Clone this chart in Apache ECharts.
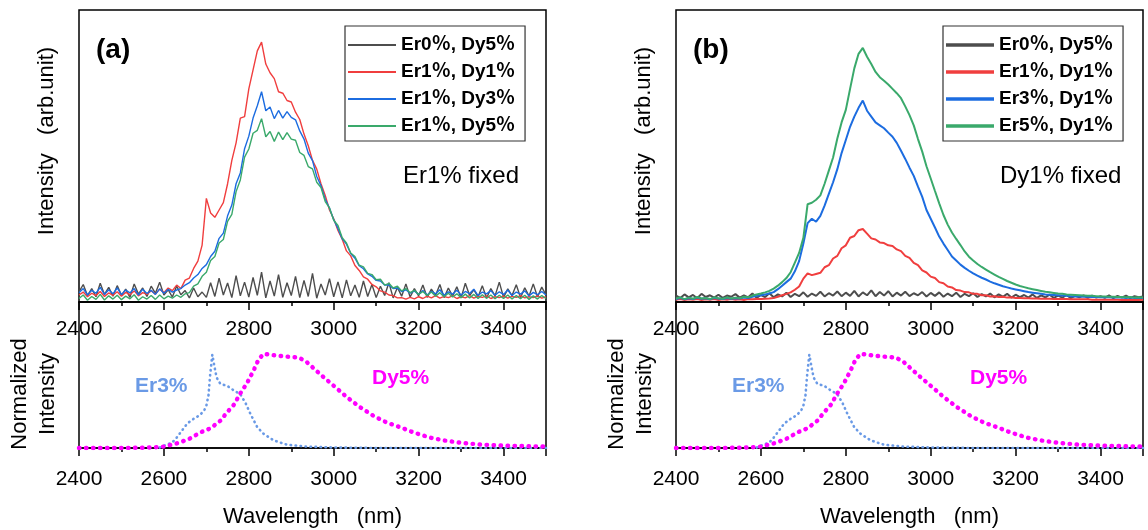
<!DOCTYPE html>
<html>
<head>
<meta charset="utf-8">
<title>Er/Dy emission spectra</title>
<script src="https://cdn.jsdelivr.net/npm/echarts@6/dist/echarts.min.js"></script>
<style>
    html, body { margin: 0; padding: 0; background: #fff; }
    #main { width: 1148px; height: 530px; }
</style>
</head>
<body>
<div id="main"></div>
<script>
// sampling grid of the spectra (nm), 10 nm step from 2400 to 3500
var wlStart = 2400, wlStep = 10, wlCount = 111;
var wavelength = [];
for (var i = 0; i < wlCount; i++) wavelength.push(wlStart + i * wlStep);

var xMin = 2400, xMax = 3500, xInterval = 200;

// panel (a): Er1% fixed, intensity in arb. units (0..100 = full frame)
var aNames = ['Er0％, Dy5％', 'Er1％, Dy1％', 'Er1％, Dy3％', 'Er1％, Dy5％'];
var aEr0Dy5 = [
    3.5, 6.0, 2.2, 4.6, 1.8, 6.4, 2.6, 5.0, 2.0, 5.6,
    2.3, 4.4, 1.6, 6.2, 2.7, 4.8, 1.9, 5.4, 3.0, 6.8,
    2.4, 4.2, 1.7, 5.5, 2.5, 3.9, 1.4, 4.8, 1.8, 3.4,
    1.6, 6.6, 1.9, 8.2, 2.4, 6.5, 1.5, 9.0, 2.1, 6.8,
    1.7, 8.4, 2.3, 10.2, 1.4, 7.2, 2.0, 9.4, 1.6, 6.6,
    2.2, 8.8, 1.5, 7.4, 1.9, 9.8, 1.3, 6.2, 2.4, 8.0,
    1.8, 6.9, 1.4, 7.6, 2.1, 5.8, 1.6, 7.2, 1.9, 6.0,
    1.5, 5.4, 2.2, 6.6, 1.4, 5.0, 2.0, 6.2, 1.7, 4.6,
    2.1, 5.8, 1.6, 4.4, 2.3, 6.0, 1.5, 4.8, 2.0, 5.2,
    1.4, 6.4, 2.2, 4.2, 1.7, 5.6, 1.3, 4.6, 2.1, 6.8,
    1.6, 4.5, 2.2, 5.9, 1.5, 4.9, 2.0, 6.2, 1.7, 5.1,
    2.4
];
var aEr1Dy1 = [
    2.4, 3.4, 1.8, 3.0, 2.2, 3.6, 1.9, 3.1, 2.3, 3.5,
    2.0, 3.3, 2.5, 3.8, 2.1, 3.2, 2.6, 3.9, 2.7, 4.4,
    3.2, 4.8, 3.9, 5.8, 4.6, 7.5, 8.2, 11.5, 14.0, 19.5,
    35.5, 30.5, 29.0, 31.5, 34.0, 40.5, 48.5, 54.5, 63.0, 63.5,
    73.0, 79.5, 86.0, 89.0, 81.5, 78.5, 76.5, 72.0, 71.5, 69.0,
    68.5, 65.0, 62.5, 57.5, 53.5, 48.5, 45.5, 40.5, 36.5, 31.5,
    28.5, 24.5, 21.5, 17.5, 15.8, 12.5, 10.8, 8.6, 7.8, 6.0,
    5.2, 3.8, 3.4, 2.4, 2.2, 1.4, 1.5, 1.0, 1.6, 1.1,
    1.8, 1.2, 2.0, 1.4, 2.2, 1.3, 1.9, 1.5, 2.1, 1.2,
    1.8, 1.4, 2.2, 1.3, 1.9, 1.6, 2.1, 1.2, 1.8, 1.5,
    2.0, 1.3, 1.9, 1.6, 2.2, 1.4, 1.8, 1.5, 2.1, 1.3,
    1.8
];
var aEr1Dy3 = [
    3.2, 4.6, 2.4, 4.0, 3.0, 5.0, 2.6, 4.2, 2.8, 4.8,
    2.5, 4.1, 3.1, 4.6, 2.4, 4.4, 2.9, 4.0, 2.6, 4.5,
    3.0, 4.3, 3.4, 4.1, 4.6, 5.8, 6.6, 8.2, 9.4, 11.5,
    12.8, 15.6, 17.4, 21.8, 23.6, 29.5, 33.2, 40.5, 44.2, 52.5,
    56.8, 63.0, 67.2, 72.0, 65.5, 66.8, 62.8, 65.6, 63.0, 65.2,
    63.2, 62.4, 58.6, 55.8, 51.0, 48.4, 43.0, 39.8, 35.2, 32.2,
    28.2, 25.2, 21.6, 19.8, 16.6, 15.0, 12.4, 11.4, 9.6, 8.8,
    7.4, 7.2, 5.8, 5.8, 4.6, 4.8, 3.6, 4.2, 3.0, 3.8,
    2.6, 3.9, 2.4, 3.6, 2.8, 4.2, 2.3, 3.5, 2.7, 4.0,
    2.4, 3.6, 2.9, 4.4, 2.2, 3.4, 2.8, 3.9, 2.3, 3.5,
    2.6, 4.1, 2.2, 3.4, 2.7, 3.8, 2.1, 3.3, 2.5, 3.6,
    2.4
];
var aEr1Dy5 = [
    1.2, 2.4, 0.6, 1.9, 0.9, 2.6, 0.7, 2.1, 1.0, 2.3,
    0.8, 2.0, 1.1, 2.5, 0.6, 1.8, 1.0, 2.2, 0.9, 2.4,
    1.1, 2.0, 1.3, 2.4, 1.6, 2.8, 3.2, 5.4, 6.2, 8.8,
    10.2, 14.2, 15.6, 20.2, 21.4, 27.6, 30.0, 37.8, 41.8, 49.6,
    52.4, 57.8, 58.8, 62.8, 56.6, 58.4, 55.0, 58.2, 55.6, 58.0,
    55.8, 55.4, 51.2, 50.2, 46.4, 45.6, 41.0, 39.2, 34.4, 32.2,
    28.0, 26.2, 22.0, 20.2, 16.8, 15.6, 12.6, 12.0, 9.8, 9.4,
    7.6, 7.8, 5.8, 6.4, 4.8, 5.4, 3.8, 4.6, 3.2, 4.0,
    2.6, 3.6, 2.2, 3.4, 2.0, 3.2, 1.8, 3.0, 1.7, 2.8,
    1.5, 2.7, 1.4, 2.6, 1.2, 2.5, 1.3, 2.4, 1.1, 2.3,
    1.2, 2.4, 1.0, 2.2, 1.1, 2.3, 0.9, 2.1, 1.0, 2.2,
    1.2
];

// panel (b): Dy1% fixed
var bNames = ['Er0％, Dy5％', 'Er1％, Dy1％', 'Er3％, Dy1％', 'Er5％, Dy1％'];
var bEr0Dy5 = [
    2.2, 1.4, 2.6, 1.6, 2.4, 1.3, 2.8, 1.7, 2.3, 1.5,
    2.5, 1.4, 2.2, 1.8, 2.7, 1.5, 2.3, 1.6, 2.9, 1.4,
    2.4, 1.7, 3.0, 1.6, 2.6, 1.9, 3.2, 1.7, 2.8, 2.0,
    3.3, 1.8, 2.9, 2.1, 3.5, 1.9, 3.0, 2.2, 3.6, 2.0,
    3.2, 2.1, 3.8, 1.9, 3.3, 2.3, 4.0, 2.0, 3.4, 2.2,
    3.7, 1.9, 3.2, 2.2, 3.5, 2.0, 3.0, 2.3, 3.4, 1.9,
    3.1, 2.1, 3.3, 1.8, 2.9, 2.0, 3.2, 1.7, 2.8, 2.0,
    3.0, 1.7, 2.7, 1.9, 2.9, 1.6, 2.6, 1.8, 2.8, 1.5,
    2.5, 1.7, 2.4, 1.5, 2.6, 1.4, 2.3, 1.6, 2.5, 1.4,
    2.2, 1.5, 2.4, 1.3, 2.1, 1.6, 2.3, 1.4, 2.2, 1.5,
    2.0, 1.4, 2.3, 1.3, 2.1, 1.5, 2.2, 1.3, 2.0, 1.6,
    1.9
];
var bEr1Dy1 = [
    0.8, 1.0, 0.7, 0.9, 0.8, 1.0, 0.7, 0.9, 0.8, 1.0,
    0.7, 0.9, 0.8, 1.0, 0.8, 0.9, 0.7, 1.0, 0.9, 1.0,
    1.0, 1.1, 1.2, 1.4, 1.8, 2.3, 2.8, 3.3, 4.2, 5.3,
    8.0, 9.8, 9.2, 9.6, 10.0, 11.9, 12.6, 14.9, 15.8, 18.4,
    19.4, 22.0, 22.6, 24.6, 25.0, 23.4, 21.8, 21.4, 20.4, 20.2,
    19.4, 19.2, 18.0, 17.4, 15.8, 15.1, 13.4, 12.6, 10.8, 10.1,
    8.7, 8.2, 6.8, 6.4, 5.3, 5.0, 4.1, 3.9, 3.4, 3.3,
    2.8, 2.8, 2.3, 2.3, 1.9, 2.0, 1.7, 1.8, 1.5, 1.6,
    1.4, 1.4, 1.3, 1.3, 1.2, 1.2, 1.1, 1.1, 1.1, 1.0,
    1.0, 1.0, 1.0, 0.9, 0.9, 0.9, 0.9, 0.9, 0.8, 0.8,
    0.8, 0.8, 0.8, 0.8, 0.8, 0.7, 0.8, 0.7, 0.8, 0.7,
    0.8
];
var bEr3Dy1 = [
    1.0, 1.4, 0.9, 1.3, 1.0, 1.5, 1.1, 1.3, 0.9, 1.4,
    1.2, 1.0, 1.4, 1.1, 1.3, 1.2, 1.5, 1.4, 1.8, 2.1,
    2.3, 2.6, 2.9, 3.4, 4.4, 5.6, 6.8, 8.0, 10.5, 14.0,
    20.0, 27.0, 28.5, 27.5, 29.5, 33.0, 37.0, 41.0, 45.5, 51.0,
    55.5, 60.0, 63.5, 66.5, 69.0, 65.5, 63.5, 61.5, 60.5, 59.5,
    58.0, 56.6, 54.5, 51.8, 49.0, 46.0, 43.2, 39.5, 36.0, 31.5,
    28.5, 25.5, 22.4, 20.0, 17.8, 15.6, 14.2, 12.8, 11.7, 10.7,
    9.8, 9.0, 8.3, 7.7, 7.0, 6.4, 5.9, 5.4, 5.0, 4.6,
    4.3, 4.0, 3.7, 3.4, 3.2, 3.0, 2.8, 2.6, 2.5, 2.4,
    2.3, 2.2, 2.1, 2.0, 1.9, 1.9, 1.8, 1.8, 1.7, 1.7,
    1.6, 1.6, 1.6, 1.5, 1.5, 1.5, 1.4, 1.5, 1.4, 1.4,
    1.4
];
var bEr5Dy1 = [
    1.2, 1.6, 1.0, 1.5, 1.1, 1.7, 1.2, 1.4, 1.0, 1.6,
    1.3, 1.1, 1.6, 1.2, 1.5, 1.3, 1.8, 1.6, 2.2, 2.6,
    2.9, 3.3, 3.8, 4.6, 5.6, 6.8, 8.2, 10.2, 13.5, 16.8,
    22.0, 33.5, 34.0, 35.0, 36.5, 40.5, 45.0, 49.5, 56.0, 61.5,
    65.8, 73.0, 80.0, 85.0, 87.0, 84.0, 81.5, 78.8, 77.0, 75.8,
    74.5, 73.0, 71.5, 69.8, 67.0, 64.0, 60.5, 55.8, 51.5, 46.5,
    42.3, 38.0, 33.8, 29.8, 26.5, 23.8, 21.6, 19.5, 17.3, 15.5,
    14.2, 13.0, 12.0, 11.1, 10.2, 9.4, 8.6, 7.9, 7.2, 6.6,
    6.0, 5.5, 5.1, 4.7, 4.4, 4.1, 3.8, 3.5, 3.3, 3.1,
    2.9, 2.8, 2.6, 2.5, 2.4, 2.3, 2.2, 2.1, 2.1, 2.0,
    1.9, 1.9, 1.8, 1.8, 1.7, 1.7, 1.6, 1.7, 1.5, 1.6,
    1.5
];

// lower panels: normalized single-dopant spectra
var er3Wl = [2590, 2600, 2615, 2625, 2640, 2655, 2670, 2685, 2695, 2700, 2705, 2709, 2714, 2718, 2724,
             2733, 2749, 2765, 2780, 2792, 2804, 2820, 2835, 2859, 2890, 2937, 3000, 3100, 3200, 3300, 3400, 3500];
var er3Val = [0.005, 0.025, 0.05, 0.08, 0.17, 0.26, 0.31, 0.35, 0.40, 0.45, 0.56, 0.78, 0.99, 0.89, 0.75,
              0.68, 0.66, 0.61, 0.57, 0.48, 0.36, 0.22, 0.15, 0.08, 0.035, 0.015, 0.005, 0, 0, 0, 0, 0];
var dy5Wl = [2400, 2450, 2500, 2550, 2580, 2600, 2631, 2659, 2686, 2710, 2733, 2749, 2765, 2780, 2796, 2812,
             2823, 2835, 2859, 2890, 2918, 2937, 2969, 3000, 3031, 3063, 3094, 3125, 3157, 3188, 3227, 3260,
             3300, 3350, 3400, 3450, 3500];
var dy5Val = [0, 0, 0, 0.003, 0.008, 0.015, 0.05, 0.095, 0.165, 0.21, 0.29, 0.38, 0.46, 0.58, 0.69, 0.83,
              0.94, 1.0, 0.985, 0.97, 0.96, 0.91, 0.78, 0.66, 0.54, 0.43, 0.34, 0.27, 0.22, 0.165, 0.11, 0.08,
              0.055, 0.035, 0.025, 0.02, 0.015];

var lineColors = ['#4d4d4d', '#f03e3e', '#1c6ce0', '#3aa96b'];
var font = '"Liberation Sans", Arial, "Noto Sans CJK SC", sans-serif';

var myChart = echarts.init(document.getElementById('main'));

function pairs(xs, ys) {
    return xs.map(function (x, k) { return [x, ys[k]]; });
}

function spectrum(name, vals, idx, axis, width) {
    return {
        type: 'line', name: name, data: pairs(wavelength, vals),
        xAxisIndex: axis, yAxisIndex: axis,
        symbol: 'none', silent: true, animation: false,
        lineStyle: { color: lineColors[idx], width: width },
        itemStyle: { color: lineColors[idx] }
    };
}

function dotted(name, xs, ys, color, size, gap, axis) {
    return {
        type: 'line', name: name, data: pairs(xs, ys),
        xAxisIndex: axis, yAxisIndex: axis,
        symbol: 'none', silent: true, animation: false,
        lineStyle: { color: color, width: size, type: [0.5, gap], cap: 'round' }
    };
}

function xAxisOf(grid, margin, withName) {
    var ax = {
        gridIndex: grid, type: 'value', min: xMin, max: xMax, interval: xInterval,
        axisLine: { show: true, onZero: false, lineStyle: { color: '#000', width: 1.5 } },
        axisTick: { show: true, length: 8, lineStyle: { color: '#000', width: 1.5 } },
        minorTick: { show: true, splitNumber: 2, length: 4, lineStyle: { color: '#000', width: 1.5 } },
        axisLabel: {
            fontSize: 21, color: '#000', margin: margin, fontFamily: font, showMaxLabel: false,
            formatter: function (v) { return String(v); }
        },
        splitLine: { show: false }
    };
    if (withName) {
        ax.name = 'Wavelength   (nm)';
        ax.nameLocation = 'middle';
        ax.nameGap = 58;
        ax.nameTextStyle = { fontSize: 22, color: '#000', fontFamily: font };
    }
    return ax;
}

function yAxisOf(grid, max) {
    return { gridIndex: grid, type: 'value', min: 0, max: max, show: false };
}

function frame(left, top, height) {
    return { left: left, top: top, width: 467, height: height, show: true,
             borderColor: '#000', borderWidth: 1.5, backgroundColor: 'transparent' };
}

function legendOf(names, left, lineW) {
    return {
        data: names, orient: 'vertical', left: left, top: 26,
        icon: 'rect', itemWidth: 48, itemHeight: lineW, itemGap: 7,
        padding: [9, 10, 5, 3],
        borderColor: '#333', borderWidth: 1.2, borderRadius: 0,
        selectedMode: false,
        textStyle: { fontSize: 19, fontWeight: 'bold', color: '#000', fontFamily: font, lineHeight: 20 }
    };
}

function txt(x, y, text, size, opts) {
    opts = opts || {};
    return {
        type: 'text', x: x, y: y, rotation: opts.rot || 0, silent: true,
        style: {
            text: text, fontSize: size, fontFamily: font, fontWeight: opts.bold ? 'bold' : 'normal',
            fill: opts.color || '#000', align: opts.align || 'left', verticalAlign: 'middle',
            lineHeight: opts.lh || size
        }
    };
}

var blueNorm = '#6a9ae6', magenta = '#ff00ff';

var option = {
    backgroundColor: '#fff',
    animation: false,
    grid: [frame(79, 10, 292), frame(79, 302, 146), frame(676, 10, 292), frame(676, 302, 146)],
    xAxis: [xAxisOf(0, 17, false), xAxisOf(1, 21, true), xAxisOf(2, 17, false), xAxisOf(3, 21, true)],
    yAxis: [yAxisOf(0, 100), yAxisOf(1, 1.55), yAxisOf(2, 100), yAxisOf(3, 1.55)],
    legend: [legendOf(aNames, 345, 2), legendOf(bNames, 943, 3.5)],
    series: [
        spectrum(aNames[0], aEr0Dy5, 0, 0, 1.4),
        spectrum(aNames[1], aEr1Dy1, 1, 0, 1.4),
        spectrum(aNames[2], aEr1Dy3, 2, 0, 1.4),
        spectrum(aNames[3], aEr1Dy5, 3, 0, 1.4),
        dotted('Er3%', er3Wl, er3Val, blueNorm, 2.6, 4.5, 1),
        dotted('Dy5%', dy5Wl, dy5Val, magenta, 4.4, 6.5, 1),
        spectrum(bNames[0], bEr0Dy5, 0, 2, 2),
        spectrum(bNames[1], bEr1Dy1, 1, 2, 2),
        spectrum(bNames[2], bEr3Dy1, 2, 2, 2),
        spectrum(bNames[3], bEr5Dy1, 3, 2, 2),
        dotted('Er3% b', er3Wl, er3Val, blueNorm, 2.6, 4.5, 3),
        dotted('Dy5% b', dy5Wl, dy5Val, magenta, 4.4, 6.5, 3)
    ],
    graphic: [
        txt(96, 50, '(a)', 28, { bold: true }),
        txt(693, 50, '(b)', 28, { bold: true }),
        txt(403, 176, 'Er1% fixed', 24),
        txt(1000, 176, 'Dy1% fixed', 24),
        txt(47, 141, 'Intensity   (arb.unit)', 22, { rot: Math.PI / 2, align: 'center' }),
        txt(644, 141, 'Intensity   (arb.unit)', 22, { rot: Math.PI / 2, align: 'center' }),
        txt(34, 394, 'Normalized\nIntensity', 22, { rot: Math.PI / 2, align: 'center', lh: 28 }),
        txt(631, 394, 'Normalized\nIntensity', 22, { rot: Math.PI / 2, align: 'center', lh: 28 }),
        txt(135, 386, 'Er3%', 21, { bold: true, color: blueNorm }),
        txt(372, 378, 'Dy5%', 21, { bold: true, color: magenta }),
        txt(732, 386, 'Er3%', 21, { bold: true, color: blueNorm }),
        txt(970, 378, 'Dy5%', 21, { bold: true, color: magenta })
    ]
};

myChart.setOption(option);
</script>
</body>
</html>
